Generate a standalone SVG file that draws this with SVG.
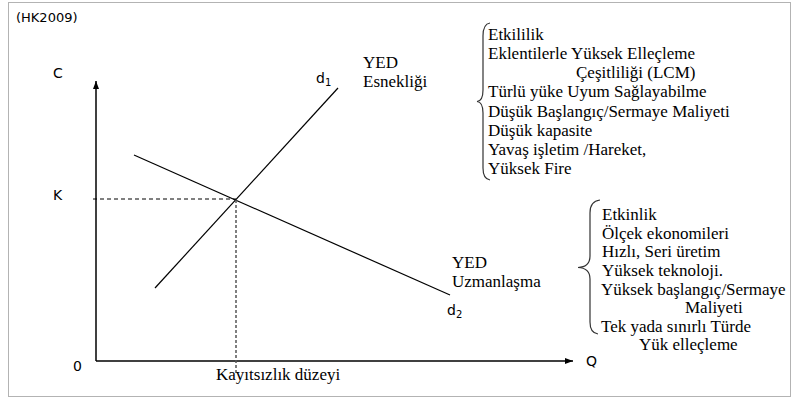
<svg xmlns="http://www.w3.org/2000/svg" width="792" height="399" viewBox="0 0 792 399">
<style>
.sans{font-family:"DejaVu Sans","Verdana",sans-serif;font-size:14px;fill:#000}
.small{font-size:13px}
.serif{font-family:"Liberation Serif","Times New Roman",serif;font-size:17px;fill:#000}
.ln{stroke:#000;stroke-width:1.2;fill:none}
.ax{stroke:#000;stroke-width:1.5;fill:none}
.brace{stroke:#333;stroke-width:1.2;fill:none}
</style>
<defs>
<marker id="arr" markerWidth="10" markerHeight="8" refX="8" refY="4" orient="auto" markerUnits="userSpaceOnUse">
<path d="M0,1 L8,4 L0,7 Z" fill="#000"/>
</marker>
</defs>
<rect x="8.5" y="2.5" width="782" height="394" fill="#fff" stroke="#666" stroke-width="1" stroke-dasharray="1,1"/>
<text class="sans small" x="16" y="22">(HK2009)</text>
<g id="axes">
<line class="ax" x1="96" y1="361" x2="96" y2="81" marker-end="url(#arr)"/>
<line class="ax" x1="96" y1="361" x2="573" y2="361" marker-end="url(#arr)"/>
<text class="sans" x="53" y="78">C</text>
<text class="sans" x="53" y="200">K</text>
<text class="sans" x="73" y="371">0</text>
<text class="sans" x="586" y="366">Q</text>
</g>
<g id="connectors">
<line class="ln" x1="155" y1="288" x2="338" y2="88"/>
<line class="ln" x1="134" y1="155" x2="450" y2="295"/>
<line x1="93" y1="199" x2="236" y2="199" stroke="#000" stroke-width="1" stroke-dasharray="4,3"/>
<line x1="236" y1="200" x2="236" y2="374" stroke="#555" stroke-width="1.5" stroke-dasharray="3,2"/>
</g>
<g id="d1">
<text class="sans" x="316" y="83">d<tspan font-size="10" dy="3">1</tspan></text>
<text class="serif" x="363" y="68">YED</text>
<text class="serif" x="363" y="87">Esnekliği</text>
</g>
<g id="d2">
<text class="sans" x="447" y="315">d<tspan font-size="10" dy="3">2</tspan></text>
<text class="serif" x="452" y="268">YED</text>
<text class="serif" x="452" y="287">Uzmanlaşma</text>
</g>
<g id="xlabel">
<text class="serif" x="216" y="380">Kayıtsızlık düzeyi</text>
</g>
<g id="list-flex">
<path class="brace" d="M490,23 Q483,24 483,36 L483,90 Q483,101 477,101.5 Q483,102 483,113 L483,168 Q483,179 490,180"/>
<text class="serif" x="488" y="39.5">Etkililik</text>
<text class="serif" x="488" y="58.5">Eklentilerle Yüksek Elleçleme</text>
<text class="serif" x="576" y="77.5">Çeşitliliği (LCM)</text>
<text class="serif" x="488" y="97">Türlü yüke Uyum Sağlayabilme</text>
<text class="serif" x="488" y="116.5">Düşük Başlangıç/Sermaye Maliyeti</text>
<text class="serif" x="488" y="135.5">Düşük kapasite</text>
<text class="serif" x="488" y="155">Yavaş işletim /Hareket,</text>
<text class="serif" x="488" y="174">Yüksek Fire</text>
</g>
<g id="list-spec">
<path class="brace" d="M600,200 Q590,201 590,213 L590,256 Q590,267 578,267.5 Q590,268 590,279 L590,322 Q590,333 598,334"/>
<text class="serif" x="602" y="220">Etkinlik</text>
<text class="serif" x="602" y="238.5">Ölçek ekonomileri</text>
<text class="serif" x="602" y="257">Hızlı, Seri üretim</text>
<text class="serif" x="602" y="275.5">Yüksek teknoloji.</text>
<text class="serif" x="601" y="294.5">Yüksek başlangıç/Sermaye</text>
<text class="serif" x="685" y="313">Maliyeti</text>
<text class="serif" x="601" y="331.5">Tek yada sınırlı Türde</text>
<text class="serif" x="639" y="350">Yük elleçleme</text>
</g>
</svg>
